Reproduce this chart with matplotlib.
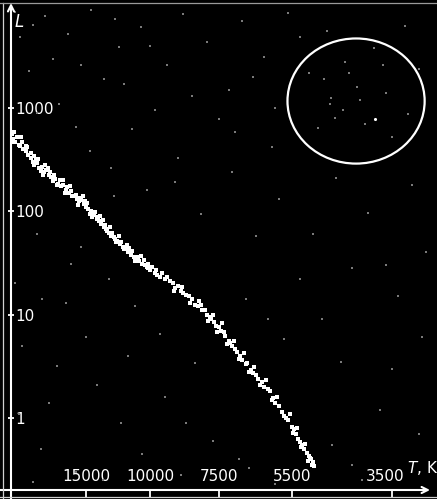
import numpy as np
import matplotlib
matplotlib.use("Agg")
import matplotlib.pyplot as plt
from matplotlib.patches import Ellipse
from matplotlib.lines import Line2D
from matplotlib.transforms import ScaledTranslation
from matplotlib.ticker import FixedLocator, FixedFormatter, NullLocator

# main sequence stars: temperature (K) and luminosity (L_sun)
ms_T = [24000, 23800, 23500, 23200, 22800, 22500, 22300, 21900, 21600, 21300,
        21000, 20800, 20500, 20200, 19800, 19600, 19300, 19000, 18700, 18500,
        18200, 17900, 17600, 17300, 17000, 16700, 16500, 16200, 15900, 15700,
        15500, 15200, 15000, 14800, 14500, 14300, 14000, 13800, 13600, 13400,
        13200, 13000, 12800, 12600, 12300, 12100, 11900, 11700, 11500, 11300,
        11100, 10900, 10700, 10500, 10300, 10100, 10000, 9800, 9600, 9400,
        9200, 9000, 8800, 8600, 8400, 8200, 8050, 7900, 7750, 7600,
        7450, 7300, 7150, 7000, 6850, 6700, 6550, 6400, 6250, 6100,
        5950, 5800, 5650, 5500, 5400, 5300, 5200, 5100, 5000,
        23600, 23000, 22000, 21200, 20600, 20000, 19400, 18800, 18000, 17400,
        16900, 16400, 16000, 15600, 15100, 14600, 14200, 13900, 13500, 13100,
        12700, 12400, 12000, 11600, 11200, 10800, 10400, 10200, 9900, 9700,
        9500, 9100, 8900, 8700, 8500, 8300, 8100, 7950, 7800, 7650,
        7500, 7350, 7200, 7100, 6950, 6800, 6650, 6500, 6350, 6200,
        6050, 5900, 5750, 5600, 5450, 5350, 5250, 5150, 5050, 5020,
        23900, 22600, 21800, 20900, 20300, 19700, 19100, 18400, 17700, 17100,
        16600, 15800, 15300, 14900, 14400, 13700, 13300, 12900, 12500, 12200,
        11800, 11400, 11000, 10600, 10150, 9750, 9300, 9050, 8750, 8450,
        8150, 7850, 7700, 7550, 7400, 7250, 7050, 6900, 6750, 6600,
        6450, 6300, 6150, 6000, 5850, 5700, 5550, 5480, 5380, 5280,
        5180, 5080, 5120, 4980]
ms_L = [560, 500, 470, 520, 430, 470, 400, 380, 350, 330,
        300, 340, 290, 265, 270, 240, 250, 225, 215, 195,
        205, 185, 175, 180, 160, 150, 158, 140, 132, 125,
        128, 118, 110, 105, 100, 92, 85, 80, 76, 70,
        68, 62, 58, 56, 52, 48, 45, 44, 40, 38,
        36, 34, 33, 31, 30, 28, 27, 25, 23, 22,
        21, 18, 17, 15.5, 14, 12, 11, 10, 9, 7.8,
        7.0, 6.2, 5.3, 4.6, 4.0, 3.3, 2.9, 2.6, 2.2, 1.9,
        1.55, 1.3, 1.0, 0.82, 0.70, 0.58, 0.50, 0.43, 0.37,
        590, 440, 430, 370, 315, 245, 280, 240, 180, 200,
        170, 140, 145, 135, 125, 95, 98, 88, 82, 64,
        62, 50, 50, 47, 41, 36, 34, 29, 29, 24,
        25, 20, 19, 16, 15, 12.5, 12.5, 11, 9.5, 8.5,
        7.5, 6.8, 5.6, 5.0, 4.3, 3.6, 3.4, 2.7, 2.4, 2.0,
        1.8, 1.4, 1.15, 0.95, 0.78, 0.62, 0.55, 0.46, 0.40, 0.35,
        470, 520, 420, 280, 320, 225, 265, 225, 200, 150,
        175, 115, 140, 120, 88, 90, 74, 70, 54, 57,
        43, 44, 33, 37, 31, 27, 23, 17, 18.5, 13,
        13.5, 8.6, 10, 6.8, 8.2, 5.2, 5.6, 3.7, 4.2, 2.8,
        3.1, 2.1, 2.3, 1.5, 1.6, 1.05, 1.1, 0.72, 0.80, 0.52,
        0.56, 0.41, 0.38, 0.34]

# faint field stars
field_T = [19500, 16800, 14500, 12200, 13400, 11800, 10600, 9300, 8700, 7900,
           7200, 6800, 6200, 5600, 5100, 4700, 3300, 3100, 3600, 4330,
           4620, 4640, 4370, 4100, 3500, 4900, 6000, 7500, 9800, 11200,
           14600, 17800, 21500, 22800, 20500, 16000, 12800, 9000, 8100, 7100,
           6400, 5800, 4500, 3900, 3200, 3000, 3400, 4200, 4800, 5300,
           6700, 8300, 9600, 11000, 13000, 16500, 19800, 22500, 18000, 14000,
           12000, 10500, 9400, 7700, 6600, 4600, 3700, 3100, 4400, 5700,
           20000, 23000, 16000, 8800, 4000,
           23500, 21000, 18500, 15500, 12500, 10000, 8400, 6500, 5300, 3800,
           3250, 4250, 4050, 3950, 4750, 4520, 3650, 5900, 7000, 8900,
           10200, 12600, 15500, 20500, 23500, 19000, 15000, 11500, 8600, 6900,
           6100, 5000, 3600, 3050, 3500, 4200, 5900, 13500, 21000, 17000]
field_L = [7800, 5200, 8800, 3900, 1900, 1700, 6100, 2600, 8200, 4400,
           1500, 6900, 3100, 8400, 2200, 5600, 6200, 2400, 1400, 2790,
           1250, 1090, 956, 1600, 520, 640, 420, 780, 950, 620,
           380, 1100, 2300, 4900, 900, 660, 260, 190, 95, 240,
           58, 130, 210, 96, 180, 40, 15, 28, 9, 22,
           14, 3.4, 6.5, 12, 22, 31, 14, 5, 3.2, 2.1,
           0.9, 0.45, 1.6, 0.6, 0.33, 0.55, 1.2, 0.7, 3.5, 5.8,
           0.5, 1.1, 0.3, 0.28, 0.25,
           8500, 6300, 3000, 2600, 7200, 4000, 1300, 2000, 4900, 3800,
           880, 2200, 1200, 700, 1900, 800, 2600, 1000, 590, 330,
           160, 140, 45, 60, 20, 1.4, 6, 4, 0.9, 0.4,
           9, 60, 30, 6, 3, 0.35, 0.23, 0.25, 0.24, 13]

bright_T = [3780]
bright_L = [783]

x_ticks = [15000, 10000, 7500, 5500, 3500]
x_tick_pos = [86, 150, 219, 292, 392]   # schematic axis (not a true log scale)
y_ticks = [1, 10, 100, 1000]

_u = -np.log10(np.array(x_ticks, float))
_p = np.array(x_tick_pos, float)
_lo = (_p[1] - _p[0]) / (_u[1] - _u[0])
_hi = (_p[-1] - _p[-2]) / (_u[-1] - _u[-2])


def t_to_pos(T):
    T = np.clip(np.asarray(T, float), 1.0, None)
    u = -np.log10(T)
    pos = np.interp(u, _u, _p)
    pos = np.where(u < _u[0], _p[0] + (u - _u[0]) * _lo, pos)
    pos = np.where(u > _u[-1], _p[-1] + (u - _u[-1]) * _hi, pos)
    return pos


def pos_to_t(pos):
    pos = np.asarray(pos, float)
    u = np.interp(pos, _p, _u)
    u = np.where(pos < _p[0], _u[0] + (pos - _p[0]) / _lo, u)
    u = np.where(pos > _p[-1], _u[-1] + (pos - _p[-1]) / _hi, u)
    return 10 ** (-u)


W, H = 437, 499
fig = plt.figure(figsize=(W / 100, H / 100), dpi=100, facecolor="black")
ax = fig.add_axes([11 / W, 9 / H, 426 / W, 485 / H])
ax.set_facecolor("black")

ax.set_xscale("function", functions=(t_to_pos, pos_to_t))
ax.set_yscale("log")
ax.set_xlim(pos_to_t(437), pos_to_t(11))
ax.set_ylim(0.2, 9930)

ax.scatter(field_T, field_L, s=0.8, marker="s", color="#7a7a7a", linewidths=0, zorder=2)
ax.scatter(bright_T, bright_L, s=5, marker="o", color="white", linewidths=0, zorder=3)
ax.scatter(ms_T, ms_L, s=6.5, marker="s", color="white", linewidths=0, zorder=4)

ax.add_patch(Ellipse((0.81, 0.802), 0.322, 0.258, transform=ax.transAxes,
                     fill=False, edgecolor="white", lw=1.6, zorder=5))

for s in ax.spines.values():
    s.set_visible(False)

ax.xaxis.set_major_locator(FixedLocator(x_ticks))
ax.xaxis.set_major_formatter(FixedFormatter([str(t) for t in x_ticks]))
ax.xaxis.set_minor_locator(NullLocator())
ax.yaxis.set_major_locator(FixedLocator(y_ticks))
ax.yaxis.set_major_formatter(FixedFormatter([str(t) for t in y_ticks]))
ax.yaxis.set_minor_locator(NullLocator())

ax.tick_params(axis="x", direction="out", length=5, width=1.3, color="white",
               labelcolor="white", labelsize=11, pad=-9.5)
ax.tick_params(axis="y", direction="inout", length=4.5, width=1.3, color="white",
               labelcolor="white", labelsize=11, pad=-5)
for lab in ax.get_xticklabels():
    lab.set_va("bottom")
for lab in ax.get_yticklabels():
    lab.set_ha("left")
# last temperature label sits a little left of its tick, clear of the axis name
last = ax.get_xticklabels()[-1]
last.set_transform(last.get_transform() + ScaledTranslation(-7 / 100, 0, fig.dpi_scale_trans))

# axis lines with arrows, drawn across the whole figure
ax.annotate("", xy=(11 / W, 1 - 3 / H), xytext=(11 / W, 0), xycoords="figure fraction",
            arrowprops=dict(arrowstyle="->", color="white", lw=1.5, shrinkA=0, shrinkB=0,
                            mutation_scale=11), annotation_clip=False)
ax.annotate("", xy=(430 / W, 9 / H), xytext=(0, 9 / H), xycoords="figure fraction",
            arrowprops=dict(arrowstyle="->", color="white", lw=1.5, shrinkA=0, shrinkB=0,
                            mutation_scale=11), annotation_clip=False)

# scan frame
fig.add_artist(Line2D([2.5 / W, 2.5 / W], [0, 1 - 2.5 / H], color="#d0d0d0", lw=0.9))
fig.add_artist(Line2D([0, 1], [1 - 2.5 / H, 1 - 2.5 / H], color="#9a9a9a", lw=0.9))
fig.add_artist(Line2D([0, 1], [2 / H, 2 / H], color="#d0d0d0", lw=0.9))

fig.text(15 / W, 1 - 27 / H, "L", color="white", fontsize=12, style="italic")
fig.text(407 / W, 1 - 473 / H, "$T$, K", color="white", fontsize=11)

fig.savefig("out.png", dpi=100, facecolor="black")
